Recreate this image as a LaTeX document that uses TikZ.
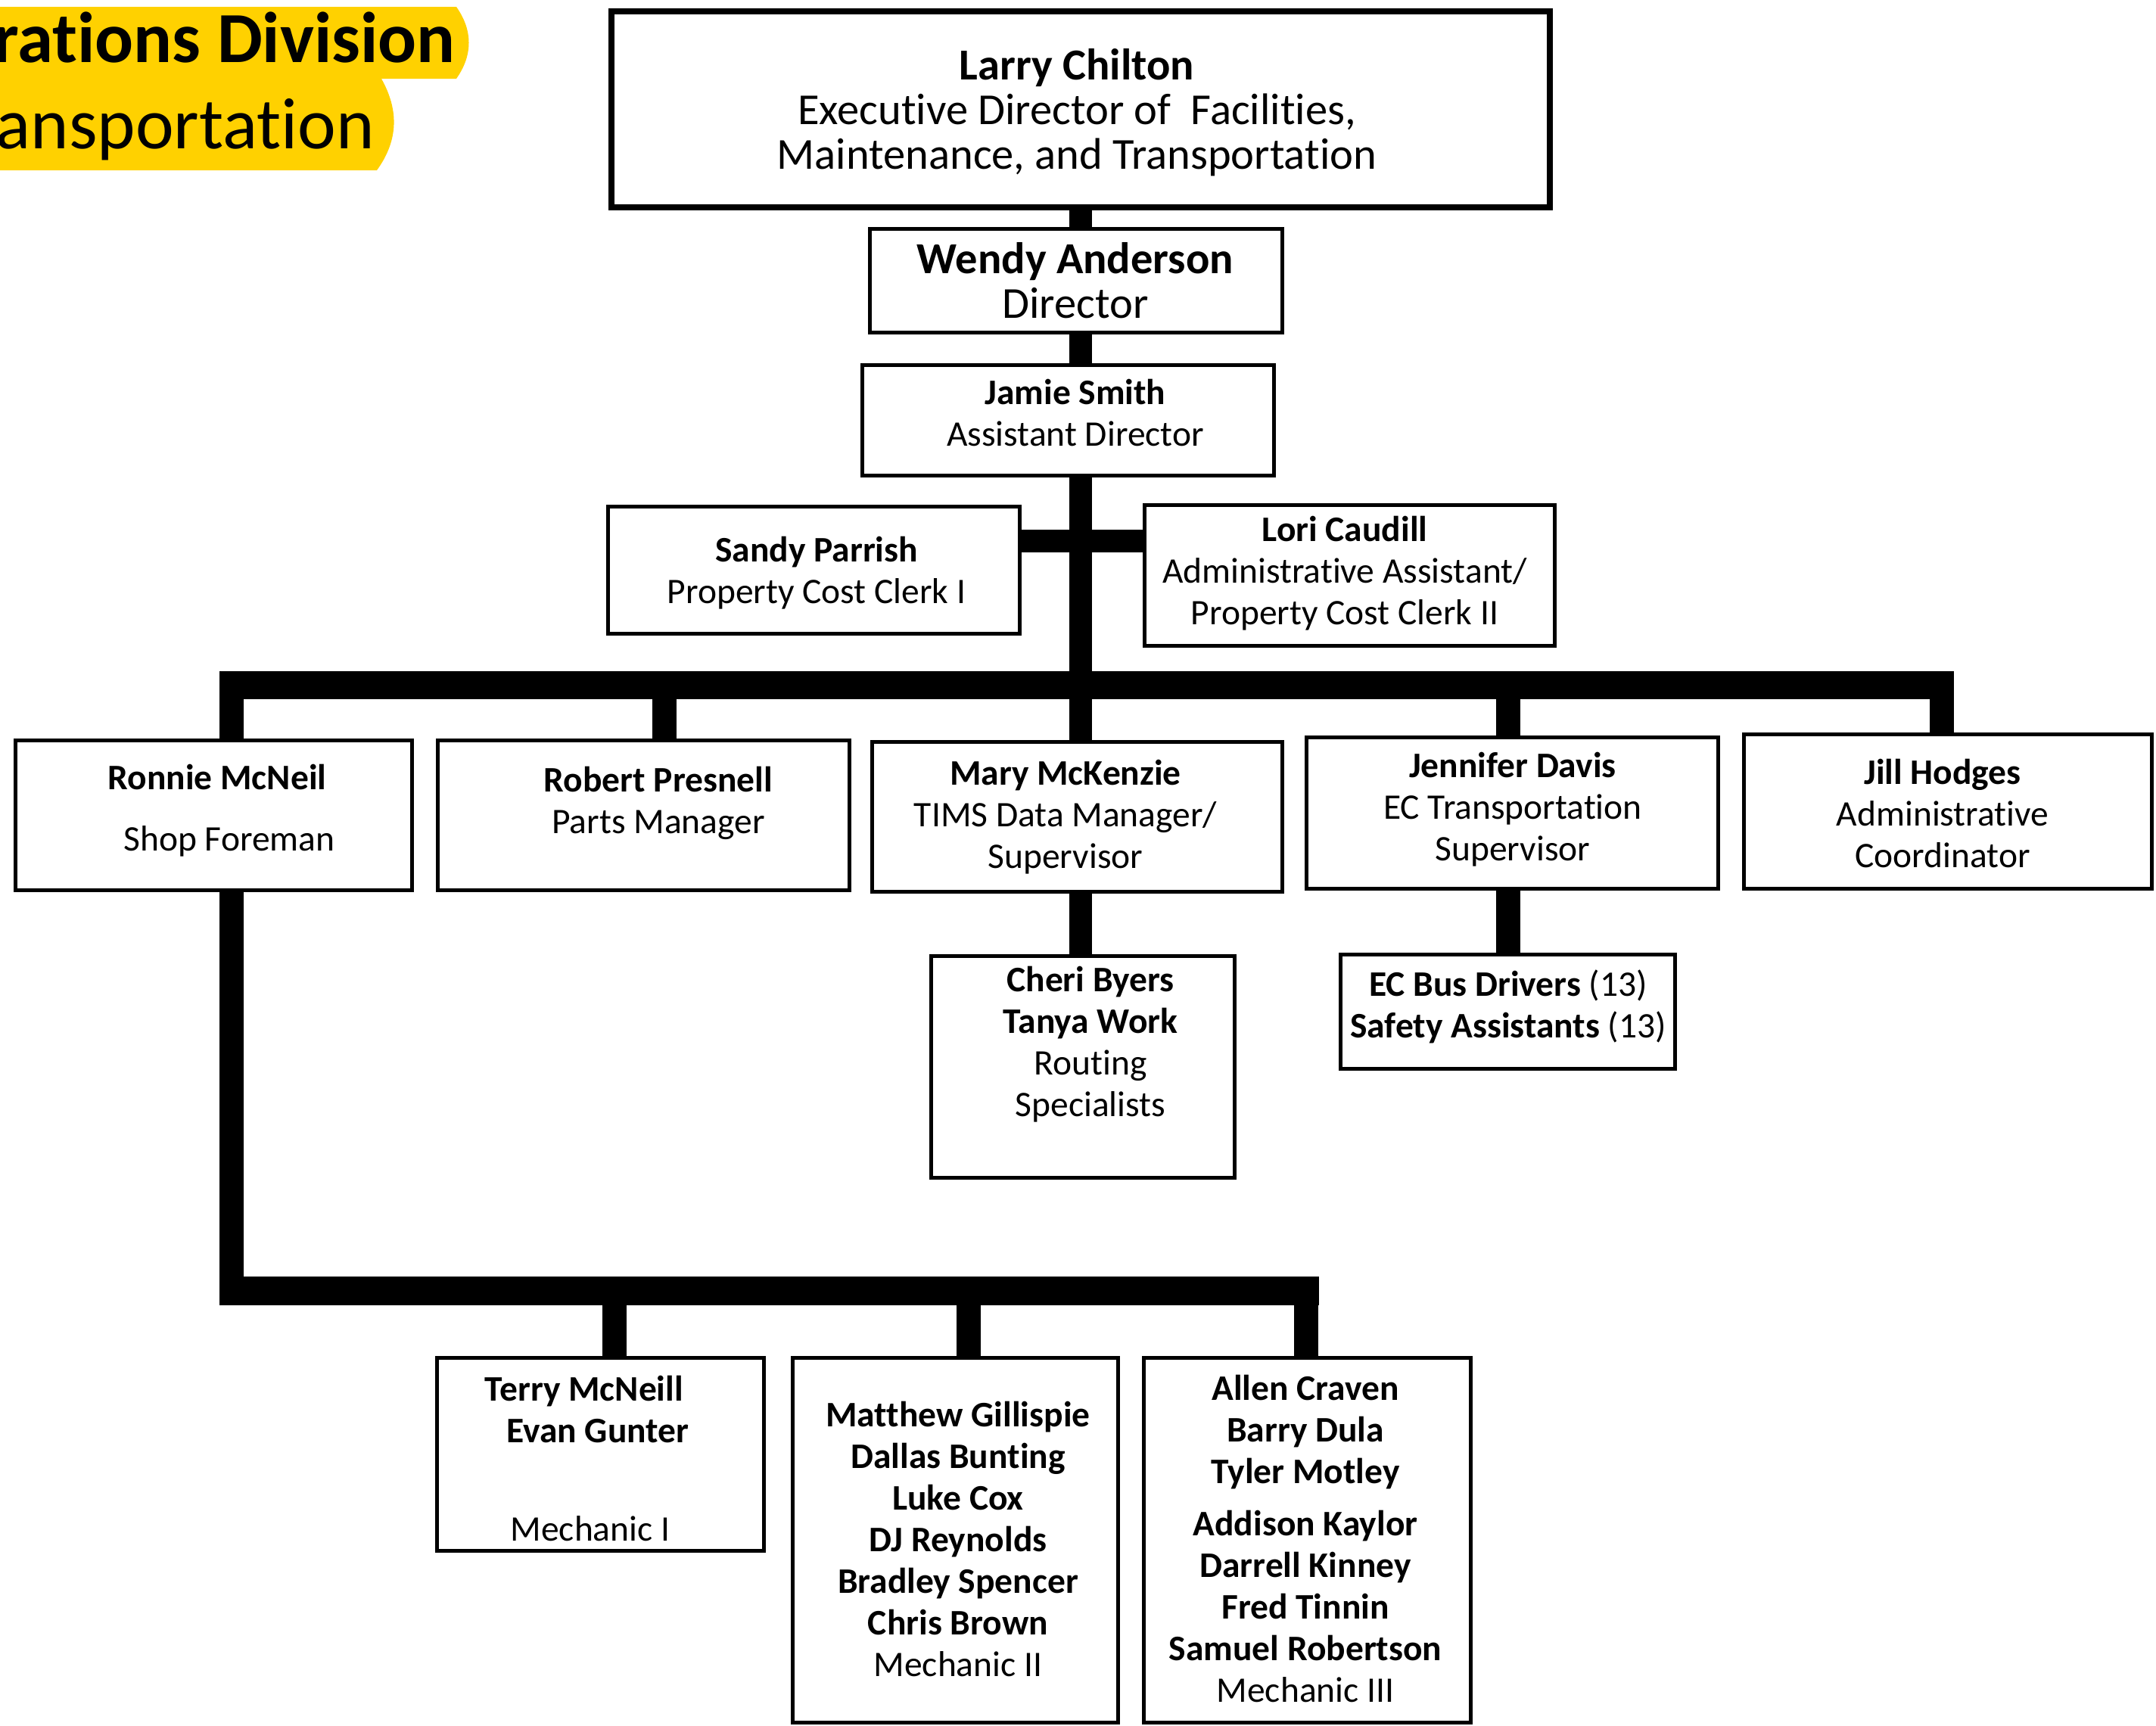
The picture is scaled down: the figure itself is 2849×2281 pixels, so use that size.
\documentclass[tikz,border=0pt]{standalone}
\usepackage{fontspec}
\setmainfont{Carlito}[Ligatures=CommonOff]
\usetikzlibrary{calc}
\definecolor{gold}{RGB}{255,209,0}
\pgfdeclarelayer{background}
\pgfsetlayers{background,main}
\begin{document}
\begin{tikzpicture}[x=1pt,y=-1pt,
  box/.style={draw=black, line width=5pt, fill=white, inner sep=0pt, outer sep=0pt},
  txt/.style={align=center, inner sep=0pt, font=\fontsize{47.5}{55}\selectfont},
  bigtxt/.style={align=center, inner sep=0pt, font=\fontsize{58.5}{59}\selectfont},
  conn/.style={line width=30pt, line cap=butt},
  drop/.style={line width=32pt, line cap=butt},
  bus/.style={line width=37pt, line cap=butt},
]
\clip (0,0) rectangle (2849,2281);
\useasboundingbox (0,0) rectangle (2849,2281);

% title banner
\fill[gold] (0,9) -- (603,9) .. controls (625,40) and (625,73) .. (603,104) -- (0,104) -- cycle;
\fill[gold] (0,104) -- (504,104) .. controls (527,145) and (527,185) .. (498,225) -- (0,225) -- cycle;
\node[anchor=base east, inner sep=0pt, font=\fontsize{95}{100}\selectfont\bfseries] (title1) at (602,82) {rations Division};
\node[anchor=base east, inner sep=0pt, font=\fontsize{96}{100}\selectfont] (title2) at (495,196) {ansportation};

% boxes
\node[box, line width=8pt, minimum width=1240pt, minimum height=259pt] (larry) at (1428,144.5) {};
\node[box, minimum width=545pt, minimum height=137pt] (wendy) at (1422,371) {};
\node[box, minimum width=544pt, minimum height=146pt] (jamie) at (1411.5,555.5) {};
\node[box, minimum width=544pt, minimum height=168pt] (sandy) at (1075.5,753.5) {};
\node[box, minimum width=542pt, minimum height=186pt] (lori) at (1783.5,760.5) {};
\node[box, minimum width=524pt, minimum height=198pt] (ronnie) at (282.5,1077.5) {};
\node[box, minimum width=544pt, minimum height=198pt] (robert) at (850.5,1077.5) {};
\node[box, minimum width=542pt, minimum height=198pt] (mary) at (1423.5,1079.5) {};
\node[box, minimum width=544pt, minimum height=200pt] (jennifer) at (1998.5,1074.5) {};
\node[box, minimum width=539pt, minimum height=204pt] (jill) at (2574,1072.5) {};
\node[box, minimum width=401pt, minimum height=293pt] (cheri) at (1431,1410) {};
\node[box, minimum width=442pt, minimum height=151pt] (ec) at (1992.5,1337) {};
\node[box, minimum width=432pt, minimum height=255pt] (terry) at (793.5,1922) {};
\node[box, minimum width=430pt, minimum height=482pt] (matthew) at (1262.5,2035.5) {};
\node[box, minimum width=432pt, minimum height=482pt] (allen) at (1727.5,2035.5) {};

% texts
\node[bigtxt] (larry-t) at (1423,149) {\textbf{Larry Chilton}\\Executive Director of\ \ Facilities,\\Maintenance, and Transportation};
\node[bigtxt] (wendy-t) at (1421,371) {\textbf{Wendy Anderson}\\Director};
\node[txt] (jamie-t) at (1421,546) {\textbf{Jamie Smith}\\Assistant Director};
\node[txt] (sandy-t) at (1079,757) {\textbf{Sandy Parrish}\\Property Cost Clerk I};
\node[txt] (lori-t) at (1777,758) {\textbf{Lori Caudill}\\Administrative Assistant/\\Property Cost Clerk II};
\node[txt] (ronnie-t) at (295,1071.5) {\textbf{Ronnie McNeil}\hspace*{16pt}\\[26pt]\hspace*{16pt}Shop Foreman};
\node[txt] (robert-t) at (870,1061.5) {\textbf{Robert Presnell}\\Parts Manager};
\node[txt] (mary-t) at (1408,1080) {\textbf{Mary McKenzie}\\TIMS Data Manager/\\Supervisor};
\node[txt] (jennifer-t) at (1999,1070) {\textbf{Jennifer Davis}\\EC Transportation\\Supervisor};
\node[txt] (jill-t) at (2567,1075) {\textbf{Jill Hodges}\\Administrative\\Coordinator};
\node[txt] (cheri-t) at (1441,1380.5) {\textbf{Cheri Byers}\\\textbf{Tanya Work}\\Routing\\Specialists};
\node[txt] (ec-t) at (1993,1330.5) {\textbf{EC Bus Drivers} (13)\\\textbf{Safety Assistants} (13)};
\node[txt] (terry-t) at (780,1927.5) {\textbf{Terry McNeill}\hspace*{16pt}\\\hspace*{20pt}\textbf{Evan Gunter}\\[75pt]Mechanic I};
\node[txt] (matthew-t) at (1266,2033.5) {\textbf{Matthew Gillispie}\\\textbf{Dallas Bunting}\\\textbf{Luke Cox}\\\textbf{DJ Reynolds}\\\textbf{Bradley Spencer}\\\textbf{Chris Brown}\\Mechanic II};
\node[txt] (allen-t) at (1725,2033) {\textbf{Allen Craven}\\\textbf{Barry Dula}\\\textbf{Tyler Motley}\\[14pt]\textbf{Addison Kaylor}\\\textbf{Darrell Kinney}\\\textbf{Fred Tinnin}\\\textbf{Samuel Robertson}\\Mechanic III};

% connectors
\coordinate (side) at (1428,715);
\coordinate (busL) at (290,905);
\coordinate (busR) at (2582,905);
\coordinate (d1) at (306,905);
\coordinate (d2) at (878,905);
\coordinate (d4) at (1993,905);
\coordinate (d5) at (2566,905);
\coordinate (b2L) at (290,1706);
\coordinate (b2R) at (1743,1706);
\coordinate (e1) at (812,1706);
\coordinate (e2) at (1280,1706);
\coordinate (e3) at (1726,1706);
\begin{pgfonlayer}{background}
\draw[conn] (larry.south) -- (larry.south |- wendy.north);
\draw[conn] (side |- wendy.south) -- (side |- jamie.north);
\draw[conn] (side |- jamie.south) -- (side |- mary.north);
\draw[conn] (sandy.east |- side) -- (lori.west |- side);
\draw[bus] (busL) -- (busR);
\draw[drop] (d1) -- (d1 |- ronnie.north);
\draw[drop] (d2) -- (d2 |- robert.north);
\draw[drop] (d4) -- (d4 |- jennifer.north);
\draw[drop] (d5) -- (d5 |- jill.north);
\draw[conn] (side |- mary.south) -- (side |- cheri.north);
\draw[drop] (d4 |- jennifer.south) -- (d4 |- ec.north);
\draw[drop] (d1 |- ronnie.south) -- (d1 |- b2L);
\draw[line width=38pt, line cap=butt] (b2L) -- (b2R);
\draw[drop] (e1) -- (e1 |- terry.north);
\draw[drop] (e2) -- (e2 |- matthew.north);
\draw[drop] (e3) -- (e3 |- allen.north);
\end{pgfonlayer}
\end{tikzpicture}
\end{document}
